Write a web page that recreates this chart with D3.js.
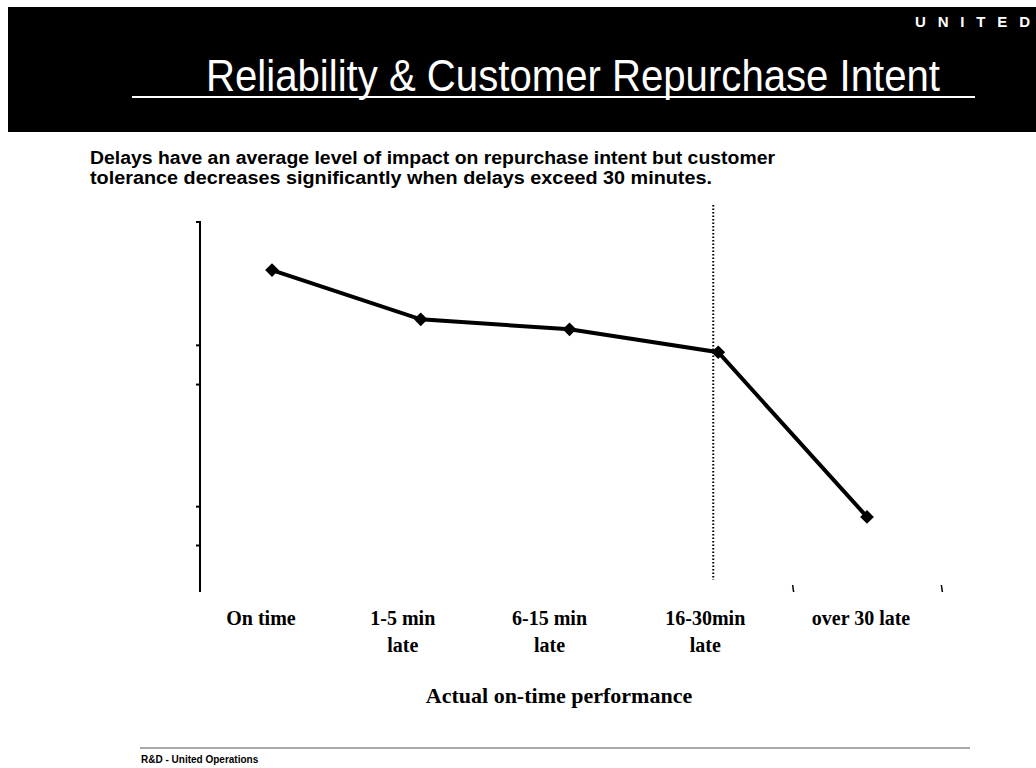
<!DOCTYPE html>
<html>
<head>
    <script type="text/javascript" src="https://d3js.org/d3.v7.min.js"></script>
    <style>
        body { margin: 0; background: #fff; }
        svg text { fill: black; }
        .cat { font: bold 20px "Liberation Serif", "Times New Roman", serif; text-anchor: middle; }
    </style>
    <title>Reliability & Customer Repurchase Intent</title>
</head>
<body>
    <svg width="1036" height="768"></svg>
    <script>
        // categories / values (index, 0-100 scale, no labels shown)
        var categories = ["On time", "1-5 min late", "6-15 min late", "16-30min late", "over 30 late"];
        var catLines = [["On time"], ["1-5 min", "late"], ["6-15 min", "late"], ["16-30min", "late"], ["over 30 late"]];
        var intent = [87.0, 73.7, 71.0, 64.8, 20.3];
        var yTicks = [12.7, 23.2, 56.2, 66.8];
        var cutoffCat = "16-30min late";

        var svg = d3.select("svg");

        // header band
        svg.append("rect").attr("x", 8).attr("y", 7).attr("width", 1028).attr("height", 125).style("fill", "#000");
        svg.append("text")
            .attr("x", 915).attr("y", 27)
            .attr("textLength", 115)
            .style("font", "900 15px 'Liberation Sans', Arial, sans-serif")
            .style("fill", "#fff")
            .text("UNITED");
        svg.append("text")
            .attr("x", 206).attr("y", 91)
            .attr("textLength", 734)
            .attr("lengthAdjust", "spacingAndGlyphs")
            .style("font", "44px 'Liberation Sans Narrow', 'Arial Narrow', 'Liberation Sans', sans-serif")
            .style("fill", "#fff")
            .text("Reliability & Customer Repurchase Intent");
        svg.append("line").attr("x1", 132).attr("x2", 975).attr("y1", 97).attr("y2", 97)
            .style("stroke", "#fff").style("stroke-width", 2);

        // subtitle
        var sub = svg.append("text")
            .style("font", "bold 18px 'Liberation Sans', Arial, sans-serif");
        sub.append("tspan").attr("x", 90).attr("y", 164)
            .attr("textLength", 685).attr("lengthAdjust", "spacingAndGlyphs")
            .text("Delays have an average level of impact on repurchase intent but customer");
        sub.append("tspan").attr("x", 90).attr("y", 184)
            .attr("textLength", 622).attr("lengthAdjust", "spacingAndGlyphs")
            .text("tolerance decreases significantly when delays exceed 30 minutes.");

        // scales
        var x = d3.scalePoint().domain(categories).range([272, 867]);
        var y = d3.scaleLinear().domain([0, 100]).range([592, 222]);
        var step = x.step();

        // y axis (no labels)
        svg.append("g")
            .attr("transform", "translate(200,0)")
            .call(d3.axisLeft(y).tickValues(yTicks).tickSize(4).tickFormat(""))
            .call(function (g) {
                g.select(".domain").attr("d", "M-4," + y(100) + "H0V" + y(0));
                g.selectAll("path, line").style("stroke", "#000").style("stroke-width", 2);
            });

        // stray x-axis boundary ticks
        svg.selectAll(".bt")
            .data(categories.slice(3))
            .enter()
            .append("line")
            .attr("x1", function (d) { return x(d) + step / 2; })
            .attr("x2", function (d) { return x(d) + step / 2 + 1; })
            .attr("y1", 585).attr("y2", 592)
            .style("stroke", "#000").style("stroke-width", 1.5);

        // dotted cutoff line
        svg.append("line")
            .attr("x1", x(cutoffCat) - 5).attr("x2", x(cutoffCat) - 5)
            .attr("y1", 205).attr("y2", 580)
            .style("stroke", "#000").style("stroke-width", 2)
            .style("stroke-dasharray", "1.5,2");

        // series line
        var line = d3.line()
            .x(function (d, i) { return x(categories[i]); })
            .y(function (d) { return y(d); });
        svg.append("path")
            .datum(intent)
            .attr("d", line)
            .style("fill", "none")
            .style("stroke", "#000")
            .style("stroke-width", 4);

        svg.selectAll(".pt")
            .data(intent)
            .enter()
            .append("path")
            .attr("class", "pt")
            .attr("d", d3.symbol().type(d3.symbolDiamond2).size(120))
            .attr("transform", function (d, i) { return "translate(" + x(categories[i]) + "," + y(d) + ")"; })
            .style("fill", "#000");

        // category labels
        var offs = [-11, -18, -20, -13, -6];
        var lab = svg.selectAll(".cat")
            .data(categories)
            .enter()
            .append("text")
            .attr("class", "cat")
            .attr("transform", function (d, i) { return "translate(" + (x(d) + offs[i]) + ",625)"; });
        lab.selectAll("tspan")
            .data(function (d, i) { return catLines[i]; })
            .enter()
            .append("tspan")
            .attr("x", 0)
            .attr("y", function (d, j) { return j * 27; })
            .text(function (d) { return d; });

        svg.append("text")
            .attr("x", 559).attr("y", 703)
            .attr("text-anchor", "middle")
            .style("font", "bold 22px 'Liberation Serif', 'Times New Roman', serif")
            .text("Actual on-time performance");

        // footer
        svg.append("line").attr("x1", 140).attr("x2", 970).attr("y1", 748).attr("y2", 748)
            .style("stroke", "#555").style("stroke-width", 1);
        svg.append("text")
            .attr("x", 141).attr("y", 763)
            .style("font", "bold 10px 'Liberation Sans', Arial, sans-serif")
            .text("R&D - United Operations");
    </script>
</body>
</html>
